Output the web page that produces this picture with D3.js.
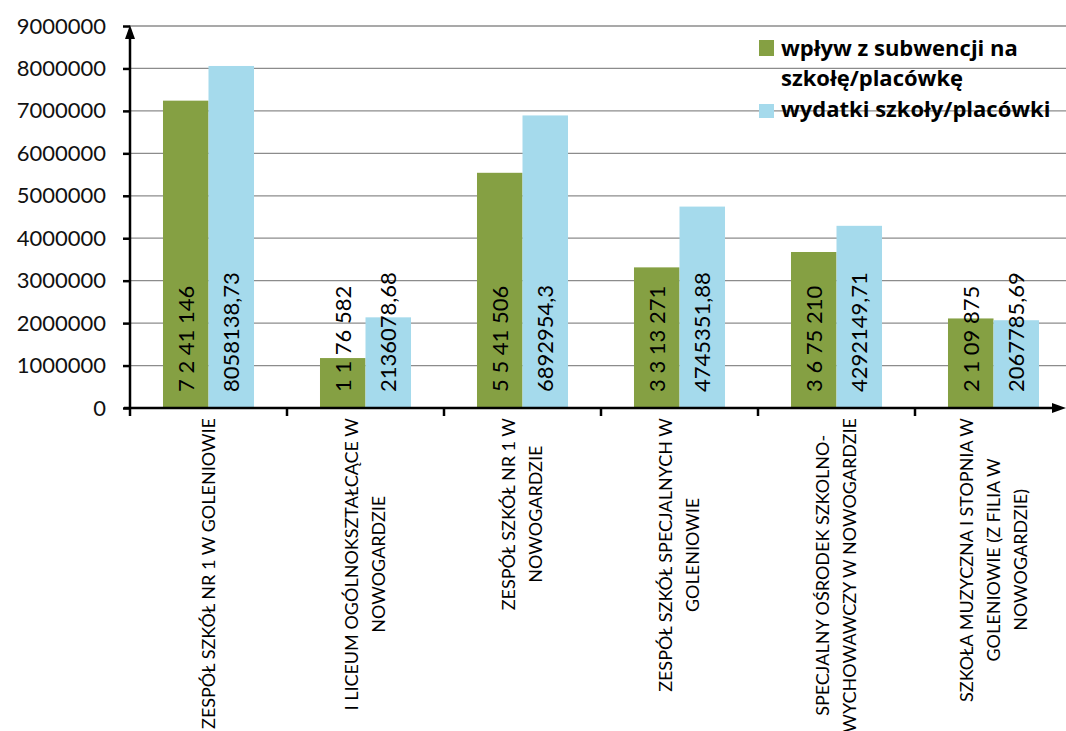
<!DOCTYPE html>
<html><head><meta charset="utf-8">
<script src="https://cdn.jsdelivr.net/npm/d3@7"></script>
<style>
html,body{margin:0;padding:0;background:#fff;}
svg{display:block;font-family:Lato, "Open Sans", sans-serif;}
</style></head>
<body>
<svg id="chart" width="1066" height="731"></svg>
<script>
const categories = [
  ["ZESPÓŁ SZKÓŁ NR 1 W GOLENIOWIE"],
  ["I LICEUM OGÓLNOKSZTAŁCĄCE W", "NOWOGARDZIE"],
  ["ZESPÓŁ SZKÓŁ NR 1 W", "NOWOGARDZIE"],
  ["ZESPÓŁ SZKÓŁ SPECJALNYCH W", "GOLENIOWIE"],
  ["SPECJALNY OŚRODEK SZKOLNO-", "WYCHOWAWCZY W NOWOGARDZIE"],
  ["SZKOŁA MUZYCZNA I STOPNIA W", "GOLENIOWIE (Z FILIA W", "NOWOGARDZIE)"]
];
const seriesNames = ["wpływ z subwencji na szkołę/placówkę", "wydatki szkoły/placówki"];
const subwencja = [7241146, 1176582, 5541506, 3313271, 3675210, 2109875];
const wydatki = [8058138.73, 2136078.68, 6892954.3, 4745351.88, 4292149.71, 2067785.69];
const subwencjaLabels = ["7 2 41 146", "1 1 76 582", "5 5 41 506", "3 3 13 271", "3 6 75 210", "2 1 09 875"];
const wydatkiLabels = ["8058138,73", "2136078,68", "6892954,3", "4745351,88", "4292149,71", "2067785,69"];
const yTicks = [0, 1000000, 2000000, 3000000, 4000000, 5000000, 6000000, 7000000, 8000000, 9000000];
const colors = ["#85A043", "#A5DAEC"];

const svg = d3.select("#chart");
const x0 = d3.scaleBand().domain(d3.range(categories.length)).range([130, 1072]).padding(0);
const x1 = d3.scaleBand().domain([0, 1]).range([0, x0.bandwidth()]).paddingInner(0).paddingOuter(0.725);
const y = d3.scaleLinear().domain([0, 9000000]).range([408, 26]);

// gridlines
svg.append("g").selectAll("line").data(yTicks.slice(1)).join("line")
  .attr("x1", 130).attr("x2", 1066)
  .attr("y1", d => y(d)).attr("y2", d => y(d))
  .attr("stroke", "#8c8c8c").attr("stroke-width", 1.3);

// bars
const series = [subwencja, wydatki];
const labels = [subwencjaLabels, wydatkiLabels];
const groups = svg.append("g").selectAll("g").data(categories.map((c, i) => i)).join("g")
  .attr("transform", i => `translate(${x0(i)},0)`);
groups.selectAll("rect").data(i => [0, 1].map(s => ({s, v: series[s][i]}))).join("rect")
  .attr("x", d => x1(d.s)).attr("width", x1.bandwidth())
  .attr("y", d => y(d.v)).attr("height", d => y(0) - y(d.v))
  .attr("fill", d => colors[d.s]);

// y axis
const yAxis = d3.axisLeft(y).tickValues(yTicks).tickFormat(d => String(d)).tickSize(7).tickPadding(17);
const ya = svg.append("g").attr("transform", "translate(130,0)").call(yAxis);
ya.select(".domain").remove();
ya.selectAll(".tick line").attr("stroke", "#000").attr("stroke-width", 2.5);
ya.selectAll(".tick text").attr("font-family", "Lato").attr("font-size", 22).attr("fill", "#111");

// x axis ticks
svg.append("g").selectAll("line").data(d3.range(categories.length + 1).slice(1, 6)).join("line")
  .attr("x1", i => x0(i)).attr("x2", i => x0(i)).attr("y1", 408).attr("y2", 416)
  .attr("stroke", "#000").attr("stroke-width", 2.5);
svg.append("line").attr("x1", 130).attr("x2", 130).attr("y1", 408).attr("y2", 416).attr("stroke", "#000").attr("stroke-width", 2.5);

// axis lines with arrows
svg.append("line").attr("x1", 130).attr("x2", 130).attr("y1", 409).attr("y2", 36).attr("stroke", "#000").attr("stroke-width", 2.5);
svg.append("path").attr("d", "M130,25 L125,39 L135,39 Z").attr("fill", "#000");
svg.append("line").attr("x1", 124).attr("x2", 1056).attr("y1", 408).attr("y2", 408).attr("stroke", "#000").attr("stroke-width", 2.5);
svg.append("path").attr("d", "M1066,408 L1052,403 L1052,413 Z").attr("fill", "#000");

// data labels
groups.selectAll("text.dl").data(i => [0, 1].map(s => ({s, t: labels[s][i]}))).join("text")
  .attr("class", "dl")
  .attr("transform", d => `translate(${x1(d.s) + x1.bandwidth() / 2},392) rotate(-90)`)
  .attr("dy", "0.36em")
  .attr("text-anchor", "start")
  .attr("font-size", 22).attr("fill", "#000")
  .text(d => d.t);

// category labels
const lineGap = 27;
categories.forEach((lines, i) => {
  const cx = x0(i) + x0.bandwidth() / 2;
  const g = svg.append("g").attr("transform", `translate(${cx},418) rotate(-90)`);
  const texts = lines.map((ln, k) => g.append("text")
    .attr("y", (k - (lines.length - 1) / 2) * lineGap)
    .attr("dy", "0.36em")
    .attr("text-anchor", "middle")
    .attr("font-size", 18).attr("fill", "#000")
    .text(ln));
  const maxLen = d3.max(texts, t => t.node().getComputedTextLength());
  texts.forEach(t => t.attr("x", -maxLen / 2));
});

// legend
const legend = svg.append("g").attr("font-family", "'Open Sans', sans-serif");
legend.append("rect").attr("x", 759).attr("y", 40).attr("width", 15).attr("height", 16).attr("fill", colors[0]);
legend.append("rect").attr("x", 759).attr("y", 104).attr("width", 15).attr("height", 14).attr("fill", colors[1]);
const lt = legend.append("text").attr("font-size", 22).attr("font-weight", 700).attr("fill", "#000");
lt.append("tspan").attr("x", 781).attr("y", 56).text("wpływ z subwencji na");
lt.append("tspan").attr("x", 781).attr("y", 86).text("szkołę/placówkę");
legend.append("text").attr("x", 781).attr("y", 117).attr("font-size", 22).attr("font-weight", 700).attr("fill", "#000")
  .text("wydatki szkoły/placówki");
</script>
</body></html>
